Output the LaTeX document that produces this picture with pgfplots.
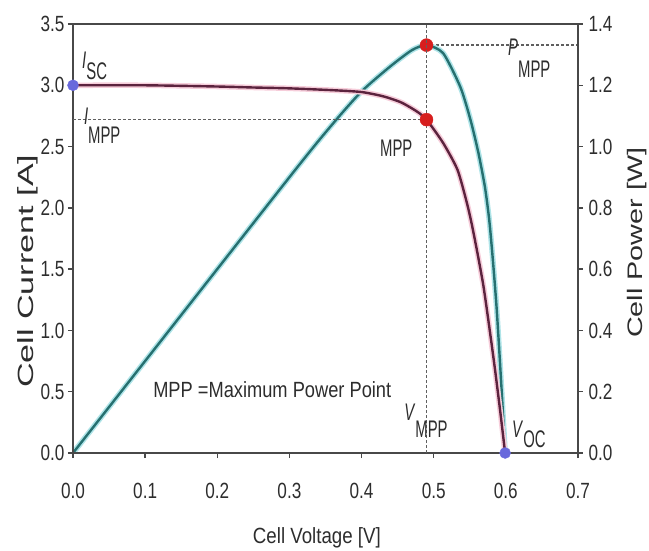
\documentclass[border=0pt]{standalone}
\usepackage{fontspec}
\setmainfont{Liberation Sans}
\newfontfamily\tickf{Liberation Sans}[FakeStretch=0.78]
\newfontfamily\annf{Liberation Sans}[FakeStretch=0.62]
\newfontfamily\bigf{Liberation Sans}[FakeStretch=0.83]
\newfontfamily\xlabf{Liberation Sans}[FakeStretch=0.85]
\newfontfamily\llabf{Liberation Sans}[FakeStretch=1.55]
\newfontfamily\rlabf{Liberation Sans}[FakeStretch=1.37]
\usepackage{pgfplots}
\pgfplotsset{compat=1.18}

\definecolor{ivline}{RGB}{92,35,62}
\definecolor{ivhalo}{RGB}{246,205,218}
\definecolor{pline}{RGB}{38,112,112}
\definecolor{phalo}{RGB}{175,228,232}
\definecolor{mppred}{RGB}{215,30,30}
\definecolor{endblue}{RGB}{105,105,220}
\definecolor{dashgray}{RGB}{95,95,95}
\definecolor{axgray}{RGB}{72,72,72}
\definecolor{txt}{RGB}{45,45,45}

\newcommand{\lbl}[3]{\textit{#1}\raisebox{-#3}{#2}}

% I-V curve: voltage [V], current [A]
\pgfplotstableread{
V     I
0.000 3.000
0.100 3.000
0.200 2.990
0.250 2.982
0.300 2.975
0.360 2.960
0.400 2.945
0.430 2.910
0.455 2.860
0.477 2.785
0.490 2.720
0.513 2.530
0.533 2.310
0.546 2.040
0.553 1.860
0.561 1.620
0.569 1.360
0.577 1.030
0.585 0.680
0.592 0.350
0.599 0.000
}\ivdata

% P-V curve: voltage [V], power [W]
\pgfplotstableread{
V     P
0.000 0.000
0.300 0.900
0.360 1.074
0.400 1.180
0.440 1.262
0.470 1.315
0.490 1.331
0.513 1.305
0.537 1.194
0.551 1.087
0.562 0.979
0.571 0.868
0.577 0.760
0.582 0.630
0.587 0.480
0.591 0.330
0.595 0.170
0.599 0.000
}\pvdata

\pgfplotsset{
  chartbase/.style={
    at={(73pt,97pt)}, anchor=south west,
    scale only axis, width=505pt, height=429pt,
    xmin=0, xmax=0.7,
    axis line style={draw=axgray, line width=2.5pt},
    tick style={draw=axgray, line width=1.3pt},
    major tick length=5pt, tick align=outside,
    tick label style={font={\tickf\fontsize{22}{22}\selectfont}, text=txt},
    /pgf/number format/.cd, fixed, precision=1, zerofill, assume math mode=true,
  },
  dashln/.style={dashgray, line width=1.5pt, dash pattern=on 3pt off 2pt},
}

\begin{document}
\begin{tikzpicture}
\path[use as bounding box] (0,0) rectangle (649pt,550pt);

% power axis (right)
\begin{axis}[chartbase,
  ymin=0, ymax=1.4,
  axis x line=none, axis y line*=right,
  ytick={0,0.2,0.4,0.6,0.8,1.0,1.2,1.4},
  yticklabel style={xshift=2pt},
]
\addplot[dashln] coordinates {(0.49,1.331) (0.7,1.331)};
\addplot[phalo, line width=5.5pt, smooth, tension=0.4] table[x=V,y=P] {\pvdata};
\addplot[pline, line width=2.4pt, smooth, tension=0.4] table[x=V,y=P] {\pvdata};
\addplot[only marks, mark=*, mark size=6.5pt, color=mppred] coordinates {(0.49,1.331)};
\end{axis}

% current axis (left)
\begin{axis}[chartbase,
  ymin=0, ymax=3.5, clip=false,
  xtick={0,0.1,0.2,0.3,0.4,0.5,0.6,0.7},
  ytick={0,0.5,1.0,1.5,2.0,2.5,3.0,3.5},
  xtick pos=bottom, ytick pos=left,
  xticklabel style={yshift=-22pt},
]
\addplot[dashln] coordinates {(0.49,0) (0.49,3.5)};
\addplot[dashln] coordinates {(0,2.72) (0.49,2.72)};
\addplot[ivhalo, line width=5.5pt, smooth, tension=0.4] table[x=V,y=I] {\ivdata};
\addplot[ivline, line width=2.4pt, smooth, tension=0.4] table[x=V,y=I] {\ivdata};
\addplot[only marks, mark=*, mark size=6.5pt, color=mppred] coordinates {(0.49,2.72)};
\addplot[only marks, mark=*, mark size=5.5pt, color=endblue] coordinates {(0,3.0) (0.599,0)};

\begin{scope}[every node/.style={inner sep=0pt, text=txt, font={\annf\fontsize{24}{24}\selectfont}}]
\node[anchor=base west] at (axis cs:0.0125,3.141) {\lbl{I}{SC}{11pt}};
\node[anchor=base west] at (axis cs:0.015,2.684) {\lbl{I}{MPP}{19pt}};
\node[anchor=base west] at (axis cs:0.4255,2.415) {MPP};
\node[anchor=base west] at (axis cs:0.603,3.247) {\lbl{P}{MPP}{22pt}};
\node[anchor=base west] at (axis cs:0.459,0.269) {\lbl{V}{MPP}{17pt}};
\node[anchor=base west] at (axis cs:0.6085,0.1305) {\lbl{V}{OC}{10pt}};
\end{scope}
\node[anchor=base west, inner sep=0pt, text=txt, font={\bigf\fontsize{22}{22}\selectfont}]
  at (axis cs:0.111,0.449) {MPP =Maximum Power Point};

\node[anchor=base west, inner sep=0pt, text=txt, font={\xlabf\fontsize{22}{22}\selectfont}]
  at (axis description cs:0.356,-0.21) {Cell Voltage [V]};
\node[rotate=90, anchor=base west, inner sep=0pt, text=txt, font={\llabf\fontsize{22}{22}\selectfont}]
  at (axis description cs:-0.0792,0.1515) {Cell Current [A]};
\node[rotate=90, anchor=base west, inner sep=0pt, text=txt, font={\rlabf\fontsize{21}{21}\selectfont}]
  at (axis description cs:1.1287,0.268) {Cell Power [W]};
\end{axis}
\end{tikzpicture}
\end{document}
